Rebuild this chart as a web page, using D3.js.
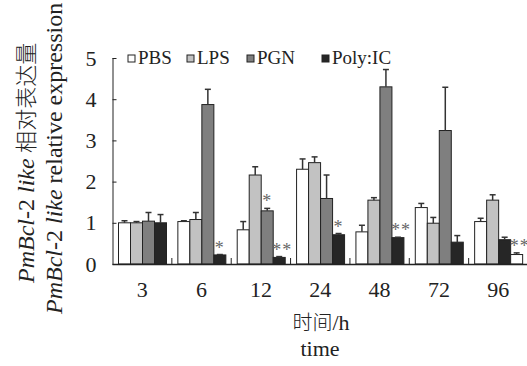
<!DOCTYPE html>
<html lang="zh">
<head>
<meta charset="UTF-8">
<title>PmBcl-2 like</title>
<style>
  body { margin: 0; background: #fff; }
  svg { display: block; font-family: "Liberation Serif", "Noto Sans CJK SC", serif; }
  .cjk { font-weight: 300; }
</style>
</head>
<body>
<div id="chart"></div>
<script src="https://d3js.org/d3.v7.min.js"></script>
<script>
// data
const times = ["3", "6", "12", "24", "48", "72", "96"];
const series = ["PBS", "LPS", "PGN", "Poly:IC"];
const values = [
  [1.00, 1.03, 0.83, 2.30, 0.78, 1.37, 1.03], // PBS
  [1.00, 1.08, 2.16, 2.46, 1.55, 0.99, 1.55], // LPS
  [1.04, 3.87, 1.29, 1.59, 4.30, 3.24, 0.59], // PGN
  [1.00, 0.22, 0.16, 0.71, 0.64, 0.53, 0.23]  // Poly:IC
];
const errors = [
  [0.05, 0.02, 0.20, 0.25, 0.16, 0.10, 0.08],
  [0.03, 0.17, 0.20, 0.14, 0.06, 0.14, 0.13],
  [0.21, 0.37, 0.06, 0.57, 0.42, 1.05, 0.06],
  [0.20, 0.01, 0.02, 0.03, 0.01, 0.16, 0.04]
];
const yTicks = [0, 1, 2, 3, 4, 5];
// significance marks: [time, series index, text]
const marks = [
  ["6", 3, "*"], ["12", 2, "*"], ["12", 3, "**"],
  ["24", 3, "*"], ["48", 3, "**"], ["96", 3, "**"]
];
const colors = ["#ffffff", "#c2c2c2", "#7f7f7f", "#262626"];
// the 96 h group is printed with PGN black and Poly:IC white in the source
const fillSwap = {"96": {2: "#262626", 3: "#ffffff"}};

const W = 527, H = 366;
const svg = d3.select("#chart").append("svg").attr("width", W).attr("height", H);

const x0 = d3.scaleBand().domain(times).range([112.5, 528]);
const x1 = d3.scaleBand().domain(d3.range(series.length)).range([6, 54]);
const y = d3.scaleLinear().domain([0, 5]).range([264, 58]);

const rows = [];
times.forEach((t, i) => series.forEach((s, j) => {
  rows.push({t, j, v: values[j][i], e: errors[j][i]});
}));

// bars
svg.append("g").selectAll("rect").data(rows).join("rect")
  .attr("x", d => x0(d.t) + x1(d.j))
  .attr("y", d => y(d.v))
  .attr("width", x1.bandwidth())
  .attr("height", d => y(0) - y(d.v))
  .attr("fill", d => (fillSwap[d.t] && fillSwap[d.t][d.j]) || colors[d.j])
  .attr("stroke", "#222")
  .attr("stroke-width", 1);

// error bars (upper only)
const eg = svg.append("g").attr("stroke", "#333").attr("stroke-width", 1.5);
rows.forEach(d => {
  const cx = x0(d.t) + x1(d.j) + x1.bandwidth() / 2;
  eg.append("line").attr("x1", cx).attr("x2", cx).attr("y1", y(d.v)).attr("y2", y(d.v + d.e));
  eg.append("line").attr("x1", cx - 3).attr("x2", cx + 3).attr("y1", y(d.v + d.e)).attr("y2", y(d.v + d.e));
});

// asterisks
svg.append("g").selectAll("text").data(marks).join("text")
  .attr("x", d => x0(d[0]) + x1(d[1]) + x1.bandwidth() / 2 + (d[2].length > 1 ? 3 : 0))
  .attr("y", d => {
    const i = times.indexOf(d[0]);
    return y(values[d[1]][i] + errors[d[1]][i]) - 1;
  })
  .attr("text-anchor", "middle")
  .attr("font-size", 18)
  .attr("fill", "#666")
  .attr("letter-spacing", 1)
  .text(d => d[2]);

// y axis
const yAxis = svg.append("g").attr("transform", "translate(112.5,0)")
  .call(d3.axisRight(y).tickValues(yTicks).tickSize(4).tickFormat(""));
yAxis.select(".domain").attr("d", `M0.5,${y(5)}V${y(0)}`).attr("stroke", "#222");
yAxis.selectAll(".tick line").attr("stroke", "#222");
svg.append("g").selectAll("text").data(yTicks).join("text")
  .attr("x", 91).attr("y", d => y(d) + 7.5)
  .attr("text-anchor", "middle")
  .attr("font-size", 22).attr("fill", "#222")
  .text(d => d);

// x axis with inner separators between groups
const seps = times.map(t => x0(t)).slice(1);
const xg = svg.append("g");
xg.append("line").attr("x1", 112.5).attr("x2", 528).attr("y1", y(0) + 0.5).attr("y2", y(0) + 0.5)
  .attr("stroke", "#222").attr("stroke-width", 1.5);
xg.selectAll(".sep").data(seps).join("line")
  .attr("x1", d => d).attr("x2", d => d)
  .attr("y1", y(0)).attr("y2", y(0) - 6)
  .attr("stroke", "#222");
xg.selectAll("text").data(times).join("text")
  .attr("x", d => x0(d) + x0.bandwidth() / 2)
  .attr("y", 297)
  .attr("text-anchor", "middle")
  .attr("font-size", 22).attr("fill", "#222")
  .text(d => d);

// axis titles
const xt = svg.append("text").attr("x", 321).attr("y", 330).attr("text-anchor", "middle")
  .attr("font-size", 20).attr("fill", "#222");
xt.append("tspan").attr("class", "cjk").text("时间");
xt.append("tspan").attr("font-size", 22).text("/h");
svg.append("text").attr("x", 320).attr("y", 356).attr("text-anchor", "middle")
  .attr("font-size", 22).attr("fill", "#222").text("time");

const t1 = svg.append("text").attr("transform", "translate(34,283) rotate(-90)")
  .attr("font-size", 24).attr("fill", "#222");
t1.append("tspan").attr("font-style", "italic").text("PmBcl");
t1.append("tspan").text("-2 ");
t1.append("tspan").attr("font-style", "italic").text("like");
t1.append("tspan").attr("class", "cjk").attr("font-size", 22).text(" 相对表达量");

const t2 = svg.append("text").attr("transform", "translate(62,314) rotate(-90)")
  .attr("font-size", 24).attr("fill", "#222");
t2.append("tspan").attr("font-style", "italic").text("PmBcl");
t2.append("tspan").text("-2 ");
t2.append("tspan").attr("font-style", "italic").text("like");
t2.append("tspan").text(" relative expression");

// legend
const legX = [128, 187, 247, 322];
const lg = svg.append("g").selectAll("g").data(series).join("g")
  .attr("transform", (d, i) => `translate(${legX[i]},55)`);
lg.append("rect").attr("width", 7).attr("height", 7)
  .attr("fill", (d, i) => colors[i]).attr("stroke", "#222");
lg.append("text").attr("x", 10).attr("y", 8.5).attr("font-size", 19).attr("fill", "#222").text(d => d);
</script>
</body>
</html>
